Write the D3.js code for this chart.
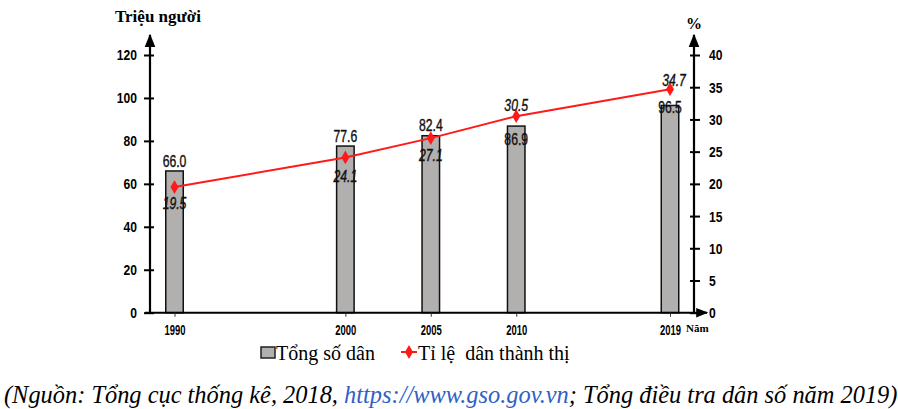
<!DOCTYPE html>
<html>
<head>
<meta charset="utf-8">
<script src="https://cdn.jsdelivr.net/npm/d3@7"></script>
<style>
  body { margin: 0; background: #fff; }
</style>
</head>
<body>
<div id="chart"></div>
<script>
// data
const years = [1990, 2000, 2005, 2010, 2019];
const population = [66.0, 77.6, 82.4, 86.9, 96.5];   // trieu nguoi
const urbanRate = [19.5, 24.1, 27.1, 30.5, 34.7];    // %
const leftTicks = [0, 20, 40, 60, 80, 100, 120];
const rightTicks = [0, 5, 10, 15, 20, 25, 30, 35, 40];

// label nudges (layout only)
const popLabelDy = [-3.5, -4.5, -5, 18.5, 8];
const rateLabelDy = [22, 25, 22.5, -5, -3.5];
const rateLabelDx = [0, 0, 0, 0, 4];

const W = 898, H = 409;
const x0 = 150, x1 = 694, yBase = 312.7, yTop = 55;
const SANS = "'Liberation Sans', Arial, sans-serif";
const SERIF = "'Liberation Serif', 'Times New Roman', serif";
const RED = "#ff1a1a";

const svg = d3.select("#chart").append("svg")
  .attr("width", W).attr("height", H);

const x = d3.scaleLinear().domain([1990, 2019]).range([174.5, 670]);
const yL = d3.scaleLinear().domain([0, 120]).range([yBase, yTop]);
const yR = d3.scaleLinear().domain([0, 40]).range([yBase, yTop]);

// squeeze text horizontally (narrow font look)
function condense(sel, sx) {
  sel.each(function () {
    const t = d3.select(this);
    const tx = +t.attr("x") || 0, ty = +t.attr("y") || 0;
    t.attr("x", 0).attr("y", 0).attr("transform", `translate(${tx},${ty}) scale(${sx},1)`);
  });
}

const defs = svg.append("defs");
defs.append("marker")
  .attr("id", "arrow").attr("viewBox", "0 0 10 10")
  .attr("refX", 9).attr("refY", 5)
  .attr("markerWidth", 6).attr("markerHeight", 6)
  .attr("orient", "auto")
  .append("path").attr("d", "M0,1 L10,5 L0,9 Z").attr("fill", "#000");

// bars
const barW = 17.5;
svg.append("g").selectAll("rect").data(years).join("rect")
  .attr("x", (d) => x(d) - barW / 2)
  .attr("y", (d, i) => yL(population[i]))
  .attr("width", barW)
  .attr("height", (d, i) => yBase - yL(population[i]))
  .attr("fill", "#b2afaf")
  .attr("stroke", "#111")
  .attr("stroke-width", 1.5);

// axes lines with arrows
svg.append("line").attr("x1", 145).attr("x2", 707).attr("y1", yBase).attr("y2", yBase)
  .attr("stroke", "#000").attr("stroke-width", 2).attr("marker-end", "url(#arrow)");
svg.append("line").attr("x1", x0).attr("x2", x0).attr("y1", yBase).attr("y2", 35)
  .attr("stroke", "#000").attr("stroke-width", 2.2).attr("marker-end", "url(#arrow)");
svg.append("line").attr("x1", x1).attr("x2", x1).attr("y1", yBase).attr("y2", 35)
  .attr("stroke", "#000").attr("stroke-width", 2.2).attr("marker-end", "url(#arrow)");

// left axis
const gL = svg.append("g").attr("transform", `translate(${x0},0)`)
  .call(d3.axisLeft(yL).tickValues(leftTicks).tickSize(0).tickPadding(13));
gL.select(".domain").remove();
gL.selectAll(".tick line").attr("x1", -6).attr("x2", 4).attr("stroke", "#000").attr("stroke-width", 2);
gL.selectAll(".tick text").attr("font-family", SANS).attr("font-size", 15.5).attr("font-weight", "bold").attr("fill", "#000")
  .call(condense, 0.78);

// right axis
const gR = svg.append("g").attr("transform", `translate(${x1},0)`)
  .call(d3.axisRight(yR).tickValues(rightTicks).tickSize(0).tickPadding(15));
gR.select(".domain").remove();
gR.selectAll(".tick line").attr("x1", -4).attr("x2", 6).attr("stroke", "#000").attr("stroke-width", 2);
gR.selectAll(".tick text").attr("font-family", SANS).attr("font-size", 15.5).attr("font-weight", "bold").attr("fill", "#000")
  .call(condense, 0.78);

// x axis
const gX = svg.append("g").attr("transform", `translate(0,${yBase})`)
  .call(d3.axisBottom(x).tickValues(years).tickFormat(d3.format("d")).tickSize(4).tickPadding(8));
gX.select(".domain").remove();
gX.selectAll(".tick line").attr("stroke", "#333").attr("stroke-width", 1);
gX.selectAll(".tick text").attr("font-family", SANS).attr("font-size", 15).attr("font-weight", "bold").attr("fill", "#000")
  .call(condense, 0.63);

svg.append("text").attr("font-family", SERIF).attr("x", 686).attr("y", 332)
  .attr("font-size", 11).attr("font-weight", "bold").text("Năm");

// axis titles
svg.append("text").attr("font-family", SERIF).attr("x", 115).attr("y", 22)
  .attr("font-size", 17).attr("font-weight", "bold").text("Triệu người");
svg.append("text").attr("font-family", SERIF).attr("x", 694).attr("y", 29)
  .attr("text-anchor", "middle").attr("font-size", 16).attr("font-weight", "bold").text("%");

// line
const line = d3.line().x((d, i) => x(years[i])).y((d) => yR(d));
svg.append("path").datum(urbanRate)
  .attr("d", line).attr("fill", "none").attr("stroke", RED).attr("stroke-width", 2);
const diamond = d3.symbol().type(d3.symbolDiamond).size(55);
svg.append("g").selectAll("path").data(urbanRate).join("path")
  .attr("d", diamond)
  .attr("transform", (d, i) => `translate(${x(years[i])},${yR(d)})`)
  .attr("fill", RED);

// bar labels
svg.append("g").selectAll("text").data(population).join("text")
  .attr("font-family", SANS)
  .attr("x", (d, i) => x(years[i]))
  .attr("y", (d, i) => yL(d) + popLabelDy[i])
  .attr("text-anchor", "middle").attr("font-size", 16.5).attr("fill", "#111")
  .attr("stroke", "#111").attr("stroke-width", 0.4)
  .text((d) => d.toFixed(1))
  .call(condense, 0.74);

// line labels
svg.append("g").selectAll("text").data(urbanRate).join("text")
  .attr("font-family", SANS)
  .attr("x", (d, i) => x(years[i]) + rateLabelDx[i])
  .attr("y", (d, i) => yR(d) + rateLabelDy[i])
  .attr("text-anchor", "middle").attr("font-size", 16.5).attr("font-style", "italic").attr("fill", "#111")
  .attr("stroke", "#111").attr("stroke-width", 0.4)
  .text((d) => d.toFixed(1))
  .call(condense, 0.74);

// legend
const lg = svg.append("g");
lg.append("rect").attr("x", 261).attr("y", 347).attr("width", 14).attr("height", 11)
  .attr("fill", "#b2afaf").attr("stroke", "#222").attr("stroke-width", 1.5);
lg.append("text").attr("font-family", SERIF).attr("x", 276).attr("y", 360)
  .attr("font-size", 20).text("Tổng số dân");
lg.append("line").attr("x1", 401).attr("x2", 417).attr("y1", 352).attr("y2", 352)
  .attr("stroke", RED).attr("stroke-width", 2);
lg.append("path").attr("d", diamond).attr("transform", "translate(409,352)").attr("fill", RED);
lg.append("text").attr("font-family", SERIF).attr("x", 418).attr("y", 360)
  .attr("font-size", 20).attr("xml:space", "preserve").text("Tỉ lệ  dân thành thị");

// source
const src = svg.append("text").attr("font-family", SERIF).attr("x", 4).attr("y", 403)
  .attr("font-size", 24.4).attr("font-style", "italic");
src.append("tspan").text("(Nguồn: Tổng cục thống kê, 2018, ");
src.append("tspan").attr("fill", "#3060c8").text("https://www.gso.gov.vn");
src.append("tspan").text("; Tổng điều tra dân số năm 2019)");
</script>
</body>
</html>
